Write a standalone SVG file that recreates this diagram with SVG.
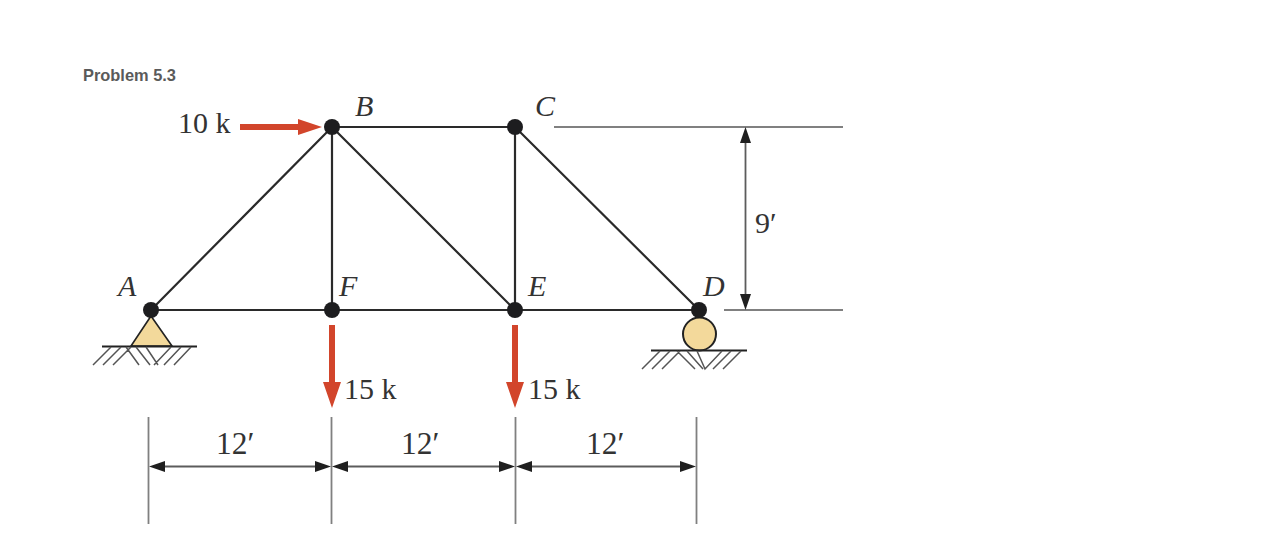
<svg xmlns="http://www.w3.org/2000/svg" width="1282" height="539" viewBox="0 0 1282 539">
<style>
.t{font-family:"Liberation Serif","Times New Roman",serif;font-size:30px;fill:#333}
.w{font-size:31.500px}
.l{font-family:"Liberation Serif","Times New Roman",serif;font-size:30px;font-style:italic;fill:#333}
.m{stroke:#2a2a2a;stroke-width:2.2;fill:none}
.d{stroke:#808080;stroke-width:1.8;fill:none}
.dk{stroke:#5c5c5c;stroke-width:1.8;fill:none}
.h{stroke:#555;stroke-width:1.5;fill:none}
.n{fill:#1d1d1f}
.r{fill:#d2452b}
.ah{fill:#1f1f1f}
</style>
<rect width="1282" height="539" fill="#fff"/>
<text x="83" y="81" font-family="'Liberation Sans',Arial,sans-serif" font-size="16.400" font-weight="700" fill="#5a5a5a">Problem 5.3</text>
<g id="connectors">
<path class="m" d="M151 310H699M332 127H515M151 310L332 127M332 127V310M332 127L515 310M515 127V310M515 127L699 310"/>
<path class="d" d="M554 127H843M724 310H843M148.500 417V524M331.500 417V524M515.500 417V524M696.500 417V524"/>
<path class="dk" d="M745.500 140V297M163 466.500H319M345 466.500H502M529 466.500H682"/>
<path class="ah" d="M745.500 127L751 143H740ZM745.500 310L740 294H751ZM149 466.500L165 461V472ZM331 466.500L315 461V472ZM332 466.500L348 461V472ZM515 466.500L499 461V472ZM516 466.500L532 461V472ZM696 466.500L680 461V472Z"/>
<path class="r" d="M240 124H298V119L322 127L298 135V130H240ZM329 325H335V382H341L332 408L323 382H329ZM512 325H518V382H524L515 408L506 382H512Z"/>
</g>
<g id="support-a">
<path d="M151 316L172 346H131Z" fill="#f3d99b" stroke="#222" stroke-width="1.6"/>
<path d="M102 346.500H197" stroke="#222" stroke-width="1.8" fill="none"/>
<path class="h" d="M93 365L111 347M103 365L121 347M113 365L131 347M126 347L139 365M136 347L150 365M146 347L158 365M154 365L171 347M164 365L181 347M174 365L191 347"/>
</g>
<g id="support-d">
<circle cx="699.500" cy="334" r="16.500" fill="#f3d99b" stroke="#222" stroke-width="2"/>
<path d="M651 350.500H747" stroke="#222" stroke-width="1.8" fill="none"/>
<path class="h" d="M642 369L660 351M652 369L670 351M662 369L680 351M677 351L695 369M687 351L703 369M697 351L705 369L722 351M713 369L731 351M723 369L741 351"/>
</g>
<g id="node-a"><circle class="n" cx="151" cy="310" r="8"/><text class="l" x="118" y="296">A</text></g>
<g id="node-b"><circle class="n" cx="332" cy="127" r="8"/><text class="l" x="355" y="116">B</text></g>
<g id="node-c"><circle class="n" cx="515" cy="127" r="8"/><text class="l" x="535" y="116">C</text></g>
<g id="node-d"><circle class="n" cx="699" cy="310" r="8"/><text class="l" x="703" y="296">D</text></g>
<g id="node-e"><circle class="n" cx="515" cy="310" r="8"/><text class="l" x="528" y="296">E</text></g>
<g id="node-f"><circle class="n" cx="332" cy="310" r="8"/><text class="l" x="339" y="296">F</text></g>
<g id="labels">
<text class="t" x="178" y="133">10 k</text>
<text class="t" x="344" y="399">15 k</text>
<text class="t" x="528" y="399">15 k</text>
<text class="t w" x="216" y="454">12′</text>
<text class="t w" x="401" y="454">12′</text>
<text class="t w" x="586" y="454">12′</text>
<text class="t" x="755" y="233">9′</text>
</g>
</svg>
